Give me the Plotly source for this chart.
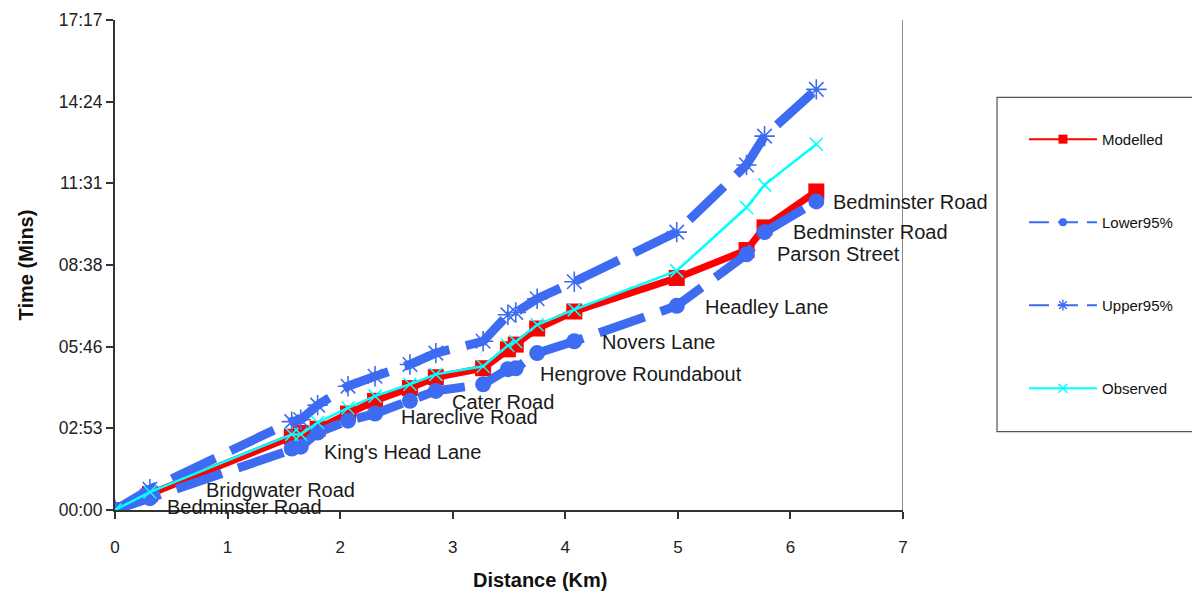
import plotly.graph_objects as go

# Stop distances along the route (km)
distance_km = [0, 0.31, 1.57, 1.65, 1.80, 2.07, 2.31, 2.62, 2.85, 3.27,
               3.49, 3.56, 3.75, 4.08, 4.99, 5.61, 5.77, 6.23]

# Cumulative journey times (seconds)
modelled_s = [0, 34, 155, 163, 172, 204, 231, 258, 281, 300,
              340, 350, 384, 420, 491, 550, 598, 674]
lower95_s = [0, 25, 130, 134, 164, 189, 204, 231, 252, 266,
             298, 300, 332, 357, 432, 541, 588, 653]
upper95_s = [0, 44, 187, 191, 222, 262, 283, 308, 332, 357,
             413, 418, 447, 483, 588, 730, 791, 890]
observed_s = [0, 38, 160, 160, 185, 216, 241, 266, 287, 304,
              348, 356, 392, 424, 506, 640, 688, 774]

# Named stops: (index into the arrays above, name)
stop_labels = [
    (0, "Bedminster Road"),
    (1, "Bridgwater Road"),
    (4, "King's Head Lane"),
    (6, "Hareclive Road"),
    (8, "Cater Road"),
    (11, "Hengrove Roundabout"),
    (13, "Novers Lane"),
    (14, "Headley Lane"),
    (15, "Parson Street"),
    (16, "Bedminster Road"),
    (17, "Bedminster Road"),
]
# Pixel offsets of each stop label from its lower-bound point
label_shift = [(50, 3), (54, 8), (4, -20), (24, -3), (14, -11), (22, -6),
               (26, -1), (26, -1), (28, 0), (26, 0), (15, -1)]

# Time axis ticks (Excel-style steps of 0.002 day)
time_tick_s = [0, 172.8, 345.6, 518.4, 691.2, 864.0, 1036.8]
time_tick_text = ["00:00", "02:53", "05:46", "08:38", "11:31", "14:24", "17:17"]

BLUE = "#3D6BF2"
STAR = "#7393FF"
CROSS = "#4FE3FF"
FONT = "Liberation Sans, Arial, sans-serif"

series = [
    dict(name="Modelled", y=modelled_s, group="m",
         line=dict(color="#FF0000", width=7),
         marker=dict(symbol="square", size=16, color="#FF0000"),
         key_line=dict(color="#FF0000", width=2),
         key_marker=dict(symbol="square", size=9, color="#FF0000")),
    dict(name="Lower95%", y=lower95_s, group="l",
         line=dict(color=BLUE, width=9, dash="48px,17px"),
         marker=dict(symbol="circle", size=16, color=BLUE),
         key_line=dict(color=BLUE, width=2, dash="20px,9px"),
         key_marker=dict(symbol="circle", size=8, color=BLUE)),
    dict(name="Upper95%", y=upper95_s, group="u",
         line=dict(color=BLUE, width=9, dash="48px,17px"),
         marker=dict(symbol="asterisk-open", size=17,
                     line=dict(color=STAR, width=1.6)),
         key_line=dict(color=BLUE, width=2, dash="20px,9px"),
         key_marker=dict(symbol="asterisk-open", size=9,
                         line=dict(color=STAR, width=1.4))),
    dict(name="Observed", y=observed_s, group="o",
         line=dict(color="#00FFFF", width=2.5),
         marker=dict(symbol="x-thin-open", size=13,
                     line=dict(color=CROSS, width=1.5)),
         key_line=dict(color="#00FFFF", width=2),
         key_marker=dict(symbol="x-thin-open", size=9,
                         line=dict(color=CROSS, width=1.4))),
]

fig = go.Figure()

for s in series:
    fig.add_trace(go.Scatter(
        x=distance_km, y=s["y"], name=s["name"], mode="lines+markers",
        line=s["line"], marker=s["marker"], legendgroup=s["group"],
        showlegend=False,
    ))
# Legend keys drawn with thin lines and small symbols
for s in series:
    fig.add_trace(go.Scatter(
        x=[None], y=[None], name=s["name"], mode="lines+markers",
        line=s["key_line"], marker=s["key_marker"], legendgroup=s["group"],
        showlegend=True, hoverinfo="skip",
    ))

for (idx, name), (dx, dy) in zip(stop_labels, label_shift):
    fig.add_annotation(
        x=distance_km[idx], y=lower95_s[idx], text=name, showarrow=False,
        xanchor="left", yanchor="middle", xshift=dx, yshift=dy,
        font=dict(family=FONT, size=20, color="#1a1a1a"),
    )

# x-axis title, set slightly right of centre
fig.add_annotation(
    xref="paper", yref="paper", x=0.539, y=-0.142, text="<b>Distance (Km)</b>",
    showarrow=False, xanchor="center", yanchor="middle",
    font=dict(family=FONT, size=20, color="#111111"),
)

# Right-hand plot border
fig.add_shape(type="line", xref="x", yref="paper", x0=7, x1=7, y0=0, y1=1,
              line=dict(color="#8a8a8a", width=2))

# Legend frame
fig.add_shape(type="rect", xref="paper", yref="paper",
              x0=1.1193, x1=1.40, y0=0.160, y1=0.842,
              line=dict(color="#555555", width=1.2), fillcolor="white",
              layer="below")

fig.update_layout(
    width=1192, height=596,
    margin=dict(l=115, r=289, t=10, b=86),
    paper_bgcolor="white", plot_bgcolor="white",
    font=dict(family=FONT, color="#222222"),
    showlegend=True,
    legend=dict(
        x=1.1535, y=0.79, xanchor="left", yanchor="top",
        bgcolor="rgba(0,0,0,0)", borderwidth=0,
        font=dict(family=FONT, size=15, color="#111111"),
        tracegroupgap=60.5, itemwidth=68,
    ),
    xaxis=dict(
        range=[0, 7], dtick=1, tick0=0, showgrid=False, zeroline=False,
        showline=True, linecolor="#333333", linewidth=2,
        ticks="outside", ticklen=7, tickcolor="#333333", tickwidth=1.5,
        tickfont=dict(family=FONT, size=17, color="#222222"),
        ticklabelstandoff=14,
    ),
    yaxis=dict(
        range=[0, 1036.8], tickvals=time_tick_s, ticktext=time_tick_text,
        showgrid=False, zeroline=False, ticklabeloverflow="allow",
        showline=True, linecolor="#333333", linewidth=2,
        ticks="outside", ticklen=7, tickcolor="#333333", tickwidth=1.5,
        tickfont=dict(family=FONT, size=17.5, color="#222222"),
        title=dict(text="<b>Time (Mins)</b>", standoff=20,
                   font=dict(family=FONT, size=20, color="#111111")),
    ),
)

fig.write_html("out.html")
